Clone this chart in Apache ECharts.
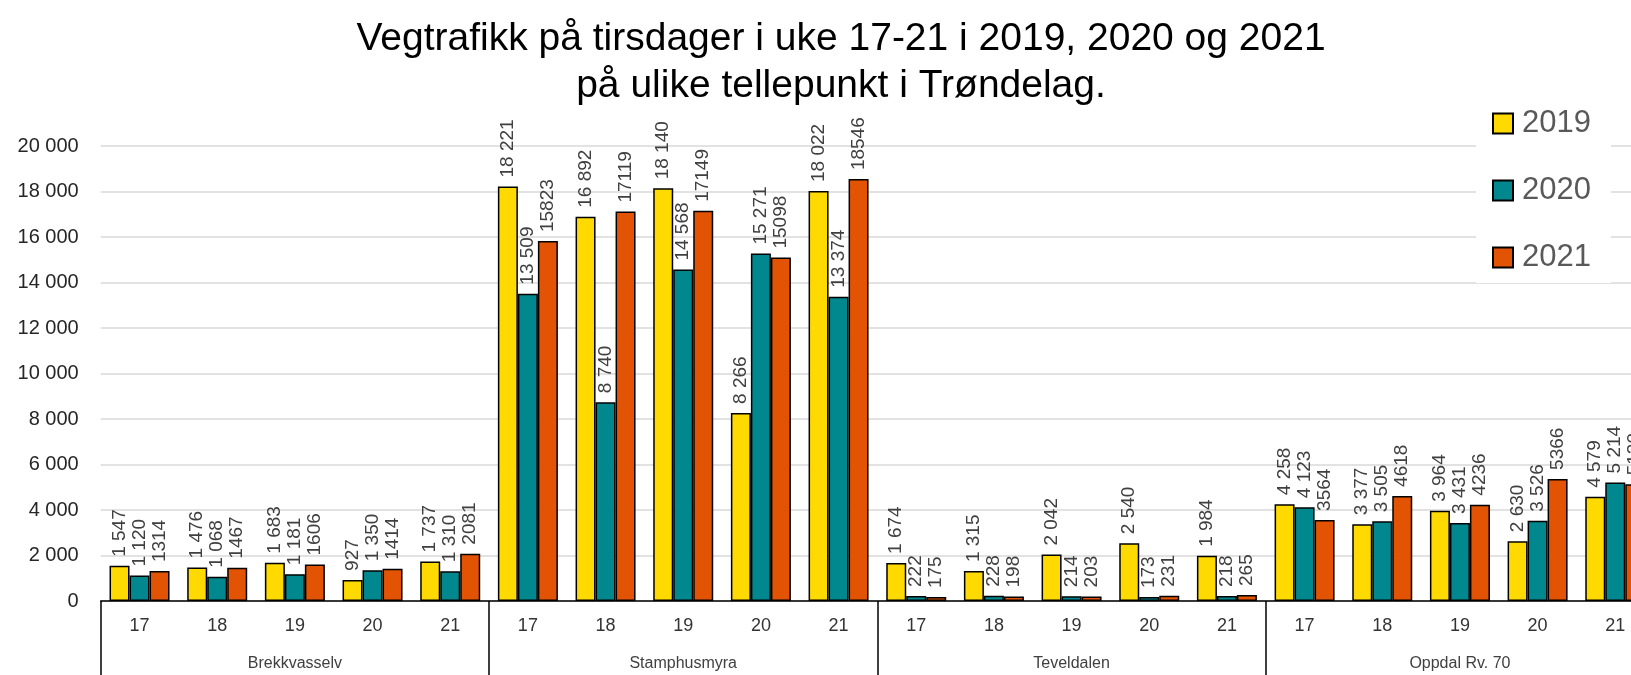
<!DOCTYPE html>
<html>
<head>
<meta charset="utf-8">
<script src="https://cdn.jsdelivr.net/npm/echarts@6/dist/echarts.min.js"></script>
<style>
  html, body { margin: 0; padding: 0; background: #fff; }
  #chart { width: 1631px; height: 675px; }
</style>
</head>
<body>
<div id="chart"></div>
<script>
// Counting points and the weeks (tuesdays) counted at each
const groups = ['Brekkvasselv', 'Stamphusmyra', 'Teveldalen', 'Oppdal Rv. 70'];
const weeks = ['17', '18', '19', '20', '21'];
const seriesNames = ['2019', '2020', '2021'];

// Vehicles per tuesday, in group order, weeks 17-21 within each group
const values2019 = [1547, 1476, 1683, 927, 1737,
                    18221, 16892, 18140, 8266, 18022,
                    1674, 1315, 2042, 2540, 1984,
                    4258, 3377, 3964, 2630, 4579];
const values2020 = [1120, 1068, 1181, 1350, 1310,
                    13509, 8740, 14568, 15271, 13374,
                    222, 228, 214, 173, 218,
                    4123, 3505, 3431, 3526, 5214];
const values2021 = [1314, 1467, 1606, 1414, 2081,
                    15823, 17119, 17149, 15098, 18546,
                    175, 198, 203, 231, 265,
                    3564, 4618, 4236, 5366, 5130];

const yTicks = { min: 0, max: 20000, interval: 2000 };

const FONT = '"Liberation Sans", "DejaVu Sans", sans-serif';

// "18221" -> "18 221"
function spaced(v) {
  return String(v).replace(/\B(?=(\d{3})+(?!\d))/g, ' ');
}

const weekCats = [];
groups.forEach(() => weeks.forEach(w => weekCats.push(w)));

const colors = ['#FFDA00', '#01888E', '#E25303'];
const seriesData = [values2019, values2020, values2021];
const labelFormat = [
  p => spaced(p.value),
  p => spaced(p.value),
  p => String(p.value)
];

const chart = echarts.init(document.getElementById('chart'), null, { renderer: 'canvas' });

chart.setOption({
  animation: false,
  backgroundColor: '#fff',
  title: {
    text: 'Vegtrafikk på tirsdager i uke 17-21 i 2019, 2020 og 2021\npå ulike tellepunkt i Trøndelag.',
    left: 841,
    top: 16,
    padding: 0,
    textAlign: 'center',
    textStyle: {
      fontFamily: FONT,
      fontSize: 39,
      fontWeight: 'normal',
      color: '#000',
      lineHeight: 47
    }
  },
  legend: {
    orient: 'vertical',
    left: 1476,
    top: 98,
    padding: [10, 20, 10, 16],
    backgroundColor: '#fff',
    itemWidth: 20,
    itemHeight: 20,
    itemGap: 36,
    icon: 'rect',
    data: seriesNames,
    textStyle: {
      fontFamily: FONT,
      fontSize: 31,
      color: '#595959',
      padding: [0, 0, 0, 4]
    }
  },
  // the plot runs past the right edge of the page, so the last week is cut off
  grid: {
    left: 100.7,
    width: 1553.4,
    top: 146,
    bottom: 74,
    containLabel: false,
    outerBoundsMode: 'none'
  },
  xAxis: [
    {
      type: 'category',
      data: weekCats,
      position: 'bottom',
      axisLine: { show: true, lineStyle: { color: '#000', width: 1.5 } },
      axisTick: { show: false },
      axisLabel: {
        interval: 0,
        margin: 16,
        fontFamily: FONT,
        fontSize: 18,
        color: '#333'
      },
      splitLine: { show: false }
    },
    {
      type: 'category',
      data: groups,
      position: 'bottom',
      offset: 0,
      axisLine: { show: false },
      axisTick: {
        show: true,
        interval: 0,
        length: 90,
        inside: false,
        lineStyle: { color: '#000', width: 1.5 }
      },
      axisLabel: {
        interval: 0,
        margin: 55,
        fontFamily: FONT,
        fontSize: 16,
        color: '#404040'
      },
      splitLine: { show: false }
    }
  ],
  yAxis: {
    type: 'value',
    min: yTicks.min,
    max: yTicks.max,
    interval: yTicks.interval,
    axisLine: { show: false },
    axisTick: { show: false },
    axisLabel: {
      margin: 22,
      fontFamily: FONT,
      fontSize: 20,
      color: '#262626',
      formatter: v => spaced(v)
    },
    splitLine: { lineStyle: { color: '#D9D9D9', width: 1.5 } }
  },
  series: seriesNames.map((name, i) => ({
    name: name,
    type: 'bar',
    xAxisIndex: 0,
    data: seriesData[i],
    barWidth: 20,
    barGap: '0%',
    itemStyle: {
      color: colors[i],
      borderColor: '#000',
      borderWidth: 1.5
    },
    label: {
      show: true,
      position: 'top',
      rotate: 90,
      align: 'left',
      verticalAlign: 'middle',
      distance: 9,
      fontFamily: FONT,
      fontSize: 19,
      color: '#404040',
      formatter: labelFormat[i]
    }
  }))
});
</script>
</body>
</html>
